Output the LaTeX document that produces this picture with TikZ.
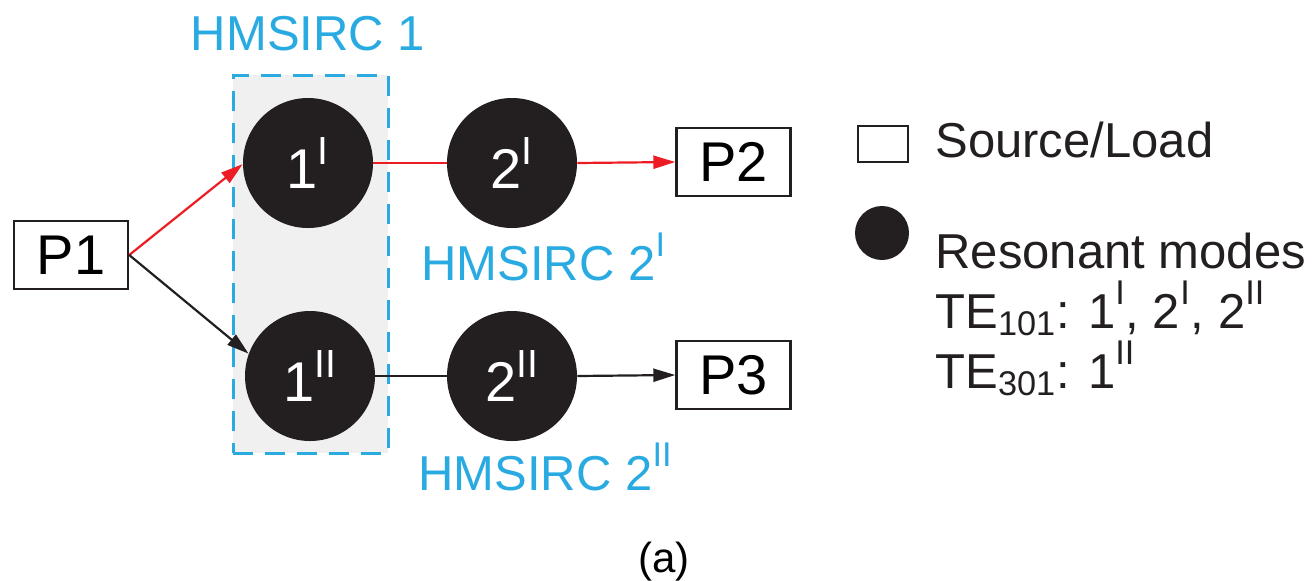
\documentclass[tikz,border=0pt]{standalone}
\usepackage{fontspec}
\setmainfont{Liberation Sans}
\usetikzlibrary{arrows.meta}

\definecolor{hmblue}{RGB}{41,171,226}
\definecolor{sigred}{RGB}{237,28,36}
\definecolor{modeblack}{RGB}{35,31,32}
\definecolor{groupgray}{RGB}{240,240,240}

% raised Roman-numeral index
\newcommand{\rn}[1]{\textsuperscript{\raisebox{0.3ex}{#1}}}

\tikzset{
  port/.style={draw=modeblack, line width=1.2pt, fill=white, minimum width=57pt,
    minimum height=34pt, inner sep=0pt, font=\fontsize{28}{32}\selectfont},
  mode/.style={circle, fill=modeblack, minimum size=65pt, inner sep=0pt,
    text=white, font=\fontsize{28}{32}\selectfont},
  grouplabel/.style={text=hmblue, inner sep=0pt, font=\fontsize{24.5}{28}\selectfont},
  legendtext/.style={inner sep=0pt, anchor=base west, text=modeblack,
    font=\fontsize{24.5}{28}\selectfont},
  redpath/.style={draw=sigred, line width=1.1pt},
  blackpath/.style={draw=modeblack, line width=1.1pt},
  tip/.style={-{Triangle[length=11pt,width=6.5pt]}}
}

\begin{document}
\begin{tikzpicture}[x=0.5pt,y=-0.5pt]
  \useasboundingbox (0,0) rectangle (1316,580);

  % resonator group HMSIRC 1
  \node[draw=hmblue, fill=groupgray, line width=1.5pt,
        dash pattern=on 10pt off 6pt, minimum width=77.5pt, minimum height=189pt,
        inner sep=0pt] (grp) at (310.5,264) {};
  \node[grouplabel, anchor=base] (grplbl) at (308,50) {HMSIRC 1};

  % ports
  \node[port] (P1) at (71,255) {P1};
  \node[port] (P2) at (733.5,162) {P2};
  \node[port] (P3) at (733.5,375) {P3};

  % resonant modes
  \node[mode] (m1a) at (308,163) {1\rn{I}};
  \node[mode] (m1b) at (310,376) {1\rn{II}};
  \node[mode] (m2a) at (512,163) {2\rn{I}};
  \node[mode] (m2b) at (512,376) {2\rn{II}};

  \node[grouplabel, anchor=base west] (lbl2a) at (421,280) {HMSIRC 2\rn{I}};
  \node[grouplabel, anchor=base west] (lbl2b) at (418,490) {HMSIRC 2\rn{II}};

  % signal paths
  \draw[redpath, tip] (P1.east) -- (m1a.181);
  \draw[blackpath, tip] (P1.east) -- (m1b.160);
  \draw[redpath] (m1a.east) -- (m2a.west);
  \draw[redpath, tip] (m2a.east) -- (P2.west);
  \draw[blackpath] (m1b.east) -- (m2b.west);
  \draw[blackpath, tip] (m2b.east) -- (P3.west);

  % legend
  \node[draw=modeblack, line width=1.2pt, minimum width=25pt, minimum height=18pt,
        inner sep=0pt] (legbox) at (883,144) {};
  \node[circle, fill=modeblack, minimum size=27pt, inner sep=0pt] (legdot) at (882,233) {};
  \node[legendtext] (legsrc) at (935,157) {Source/Load};
  \node[legendtext] (legres) at (935,268) {Resonant modes};
  \node[legendtext] (legte1) at (935,328)
    {TE\textsubscript{101}: 1\rn{I}, 2\rn{I}, 2\rn{II}};
  \node[legendtext] (legte3) at (935,388)
    {TE\textsubscript{301}: 1\rn{II}};

  % caption
  \node[inner sep=0pt, anchor=base, font=\fontsize{21}{24}\selectfont] (cap) at (664,572) {(a)};
\end{tikzpicture}
\end{document}
